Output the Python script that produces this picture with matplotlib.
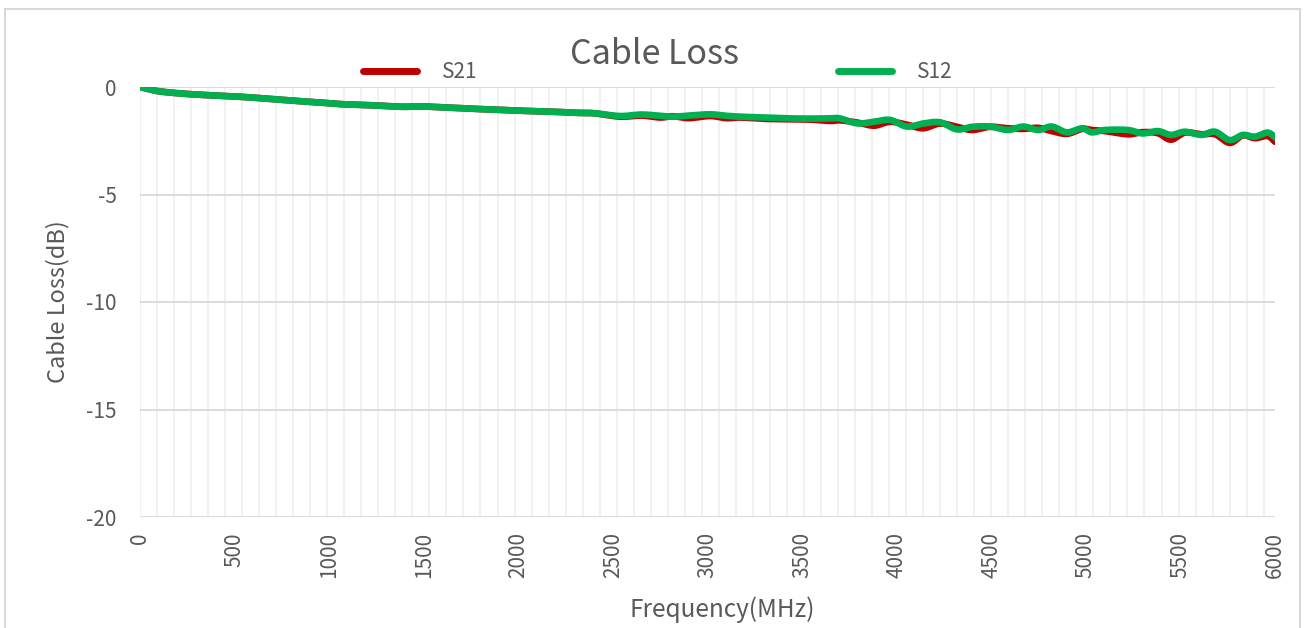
import matplotlib
matplotlib.use("Agg")
import matplotlib.pyplot as plt
from matplotlib.patches import Rectangle
import numpy as np

# ---- data ----
freq_mhz = [0, 80, 150, 260, 400, 540, 700, 800, 950, 1070, 1200, 1385, 1480, 1650,
            1834, 2000, 2185, 2300, 2400, 2537, 2650, 2750, 2818, 2900, 3013, 3100,
            3172, 3300, 3436, 3550, 3650, 3700, 3790, 3880, 3964, 4054, 4140, 4229,
            4318, 4400, 4493, 4588, 4670, 4747, 4820, 4900, 4980, 5032, 5100, 5222,
            5300, 5381, 5450, 5524, 5610, 5683, 5761, 5830, 5894, 5960, 6000]

s12 = [0.00, -0.17, -0.25, -0.33, -0.40, -0.46, -0.56, -0.63, -0.72, -0.80, -0.84, -0.92,
       -0.90, -0.97, -1.04, -1.10, -1.15, -1.20, -1.22, -1.35, -1.28, -1.34, -1.38, -1.33,
       -1.27, -1.34, -1.38, -1.42, -1.46, -1.47, -1.46, -1.46, -1.69, -1.62, -1.53, -1.84,
       -1.70, -1.64, -1.97, -1.85, -1.84, -2.00, -1.84, -2.00, -1.84, -2.11, -1.92, -2.11,
       -2.00, -2.00, -2.16, -2.05, -2.23, -2.08, -2.23, -2.08, -2.47, -2.23, -2.31, -2.12,
       -2.34]

s21 = [0.00, -0.17, -0.25, -0.33, -0.40, -0.46, -0.56, -0.63, -0.72, -0.80, -0.84, -0.92,
       -0.90, -0.97, -1.04, -1.10, -1.15, -1.20, -1.22, -1.38, -1.33, -1.42, -1.36, -1.45,
       -1.35, -1.45, -1.42, -1.48, -1.50, -1.52, -1.58, -1.55, -1.65, -1.80, -1.62, -1.75,
       -1.92, -1.70, -1.85, -2.00, -1.85, -1.92, -1.95, -1.90, -2.05, -2.18, -1.95, -2.00,
       -2.05, -2.20, -2.10, -2.15, -2.45, -2.12, -2.20, -2.20, -2.60, -2.25, -2.38, -2.28,
       -2.55]

series_names = ["S21", "S12"]
series_colors = ["#C00000", "#00B050"]
x_ticks = [0, 500, 1000, 1500, 2000, 2500, 3000, 3500, 4000, 4500, 5000, 5500, 6000]
y_ticks = [0, -5, -10, -15, -20]
minor_step = 90  # vertical gridline spacing (MHz)


def smooth_path(x, y, n=12):
    """Catmull-Rom rendering of the listed points (like a 'smoothed line' chart)."""
    x = np.asarray(x, float)
    y = np.asarray(y, float)
    px = np.concatenate([[x[0]], x, [x[-1]]])
    py = np.concatenate([[y[0]], y, [y[-1]]])
    xs, ys = [x[0]], [y[0]]
    t = np.linspace(0, 1, n + 1)[1:]
    for i in range(1, len(px) - 2):
        p0, p1, p2, p3 = (np.array([px[j], py[j]]) for j in (i - 1, i, i + 1, i + 2))
        for tt in t:
            pt = 0.5 * ((2 * p1) + (-p0 + p2) * tt + (2 * p0 - 5 * p1 + 4 * p2 - p3) * tt ** 2
                        + (-p0 + 3 * p1 - 3 * p2 + p3) * tt ** 3)
            xs.append(pt[0])
            ys.append(pt[1])
    return np.array(xs), np.array(ys)


FONT = ["Noto Sans CJK SC", "DejaVu Sans"]
plt.rcParams['font.family'] = FONT
plt.rcParams['font.weight'] = 'light'
plt.rcParams['axes.unicode_minus'] = False
TXT = "#595959"

W, H = 1307, 628
fig = plt.figure(figsize=(W / 100, H / 100), dpi=100)
fig.patches.append(Rectangle((5 / W, -0.02), (1300 - 5) / W, 1 - 9 / H + 0.02,
                             transform=fig.transFigure, fill=False,
                             edgecolor="#d9d9d9", linewidth=1.5))

ax = fig.add_axes([140 / W, 1 - 517 / H, (1275 - 140) / W, (517 - 87) / H])
for s in ax.spines.values():
    s.set_visible(False)

# gridlines
for xv in np.arange(0, 6000, minor_step):
    ax.axvline(xv, color="#efefef", lw=1.2, zorder=0)
for yv in y_ticks:
    ax.axhline(yv, color="#d9d9d9", lw=1.3, zorder=0.5)

x21, y21 = smooth_path(freq_mhz, s21)
x12, y12 = smooth_path(freq_mhz, s12)
ln21, = ax.plot(x21, y21, color=series_colors[0], lw=4.8,
                solid_joinstyle="round", solid_capstyle="round", zorder=2)
ln12, = ax.plot(x12, y12, color=series_colors[1], lw=4.8,
                solid_joinstyle="round", solid_capstyle="round", zorder=3)

ax.set_xlim(0, 6000)
ax.set_ylim(-20, 0)
ax.set_xticks(x_ticks)
ax.set_xticklabels([str(v) for v in x_ticks], rotation=90, va="top", ha="center")
ax.set_yticks(y_ticks)
ax.tick_params(axis="both", length=0, labelsize=15, colors=TXT)
ax.tick_params(axis="x", pad=11)
ax.tick_params(axis="y", pad=17)

ax.set_ylabel("Cable Loss(dB)", fontsize=17, color=TXT, labelpad=12)
fig.text(722 / W, 1 - 610 / H, "Frequency(MHz)", fontsize=17.5, color=TXT,
         ha="center", va="center")
fig.text(655 / W, 1 - 54 / H, "Cable Loss", fontsize=24.5, color=TXT,
         ha="center", va="center")

leg = fig.legend([ln21, ln12], series_names, loc="center left",
                 bbox_to_anchor=(363 / W, 1 - 72 / H), ncol=2, frameon=False,
                 fontsize=15, handlelength=2.6, handletextpad=1.2,
                 columnspacing=17.3, borderpad=0, borderaxespad=0)
for t in leg.get_texts():
    t.set_color(TXT)
for h in leg.legend_handles:
    h.set_linewidth(5)
    h.set_solid_capstyle("round")

fig.savefig("out.png", dpi=100)
